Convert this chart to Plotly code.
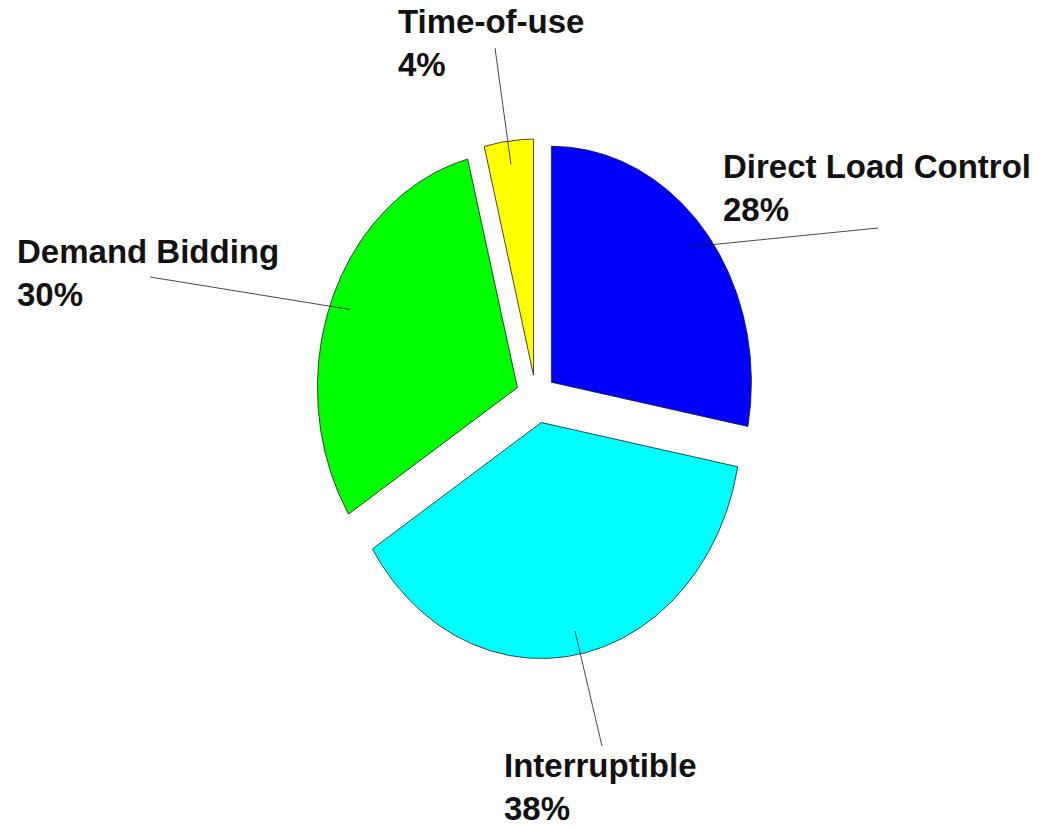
import numpy as np
import plotly.graph_objects as go

# ---- data ----
categories = ["Direct Load Control", "Interruptible", "Demand Bidding", "Time-of-use"]
values = [28, 38, 30, 4]

# ---- styles ----
colors = ["#0000ff", "#00ffff", "#00ff00", "#ffff00"]

# ---- layout constants (pixel space) ----
W, H = 1047, 829
CX, CY = 536, 395          # pie centre
RX, RY = 200, 236          # ellipse radii
pulls = [20, 28, 20, 20]   # explode distance per slice
LEADER_FRAC = 0.9          # leader line start (fraction of radius)
# label text box (left, top) and leader line outer end
label_pos = [(721, 146), (502, 745), (15, 231), (396, 1)]
leader_end = [(878, 228), (602, 746), (150, 277), (495, 48)]

FONT = "Liberation Sans, Arial, sans-serif"
FSIZE = 33

fig = go.Figure()
total = float(sum(values))
cum = 0.0
for i, (cat, v) in enumerate(zip(categories, values)):
    a0 = cum / total * 2 * np.pi
    a1 = (cum + v) / total * 2 * np.pi
    cum += v
    mid = (a0 + a1) / 2
    vx = CX + pulls[i] * np.sin(mid)
    vy = CY - pulls[i] * np.cos(mid)
    t = np.linspace(a0, a1, 200)
    xs = np.concatenate([[vx], vx + RX * np.sin(t), [vx]])
    ys = np.concatenate([[vy], vy - RY * np.cos(t), [vy]])
    fig.add_trace(go.Scatter(
        x=xs, y=ys, mode="lines", fill="toself",
        fillcolor=colors[i], line=dict(color="#1a1a1a", width=0.8),
        hoverinfo="skip", showlegend=False))
    # leader line
    sx = vx + LEADER_FRAC * RX * np.sin(mid)
    sy = vy - LEADER_FRAC * RY * np.cos(mid)
    ex, ey = leader_end[i]
    fig.add_trace(go.Scatter(
        x=[sx, ex], y=[sy, ey], mode="lines",
        line=dict(color="#1a1a1a", width=0.8),
        hoverinfo="skip", showlegend=False))
    pct = round(v / total * 100)
    lx, ly = label_pos[i]
    fig.add_annotation(
        x=lx, y=ly, xref="x", yref="y", xanchor="left", yanchor="top",
        text=f"{cat}<br>{pct}%", showarrow=False, align="left",
        font=dict(family=FONT, size=FSIZE, color="#111111", weight="bold"))

fig.update_xaxes(range=[0, W], visible=False, fixedrange=True)
fig.update_yaxes(range=[H, 0], visible=False, fixedrange=True)
fig.update_layout(
    width=W, height=H, margin=dict(l=0, r=0, t=0, b=0),
    paper_bgcolor="white", plot_bgcolor="white",
)
fig.write_html("out.html")
